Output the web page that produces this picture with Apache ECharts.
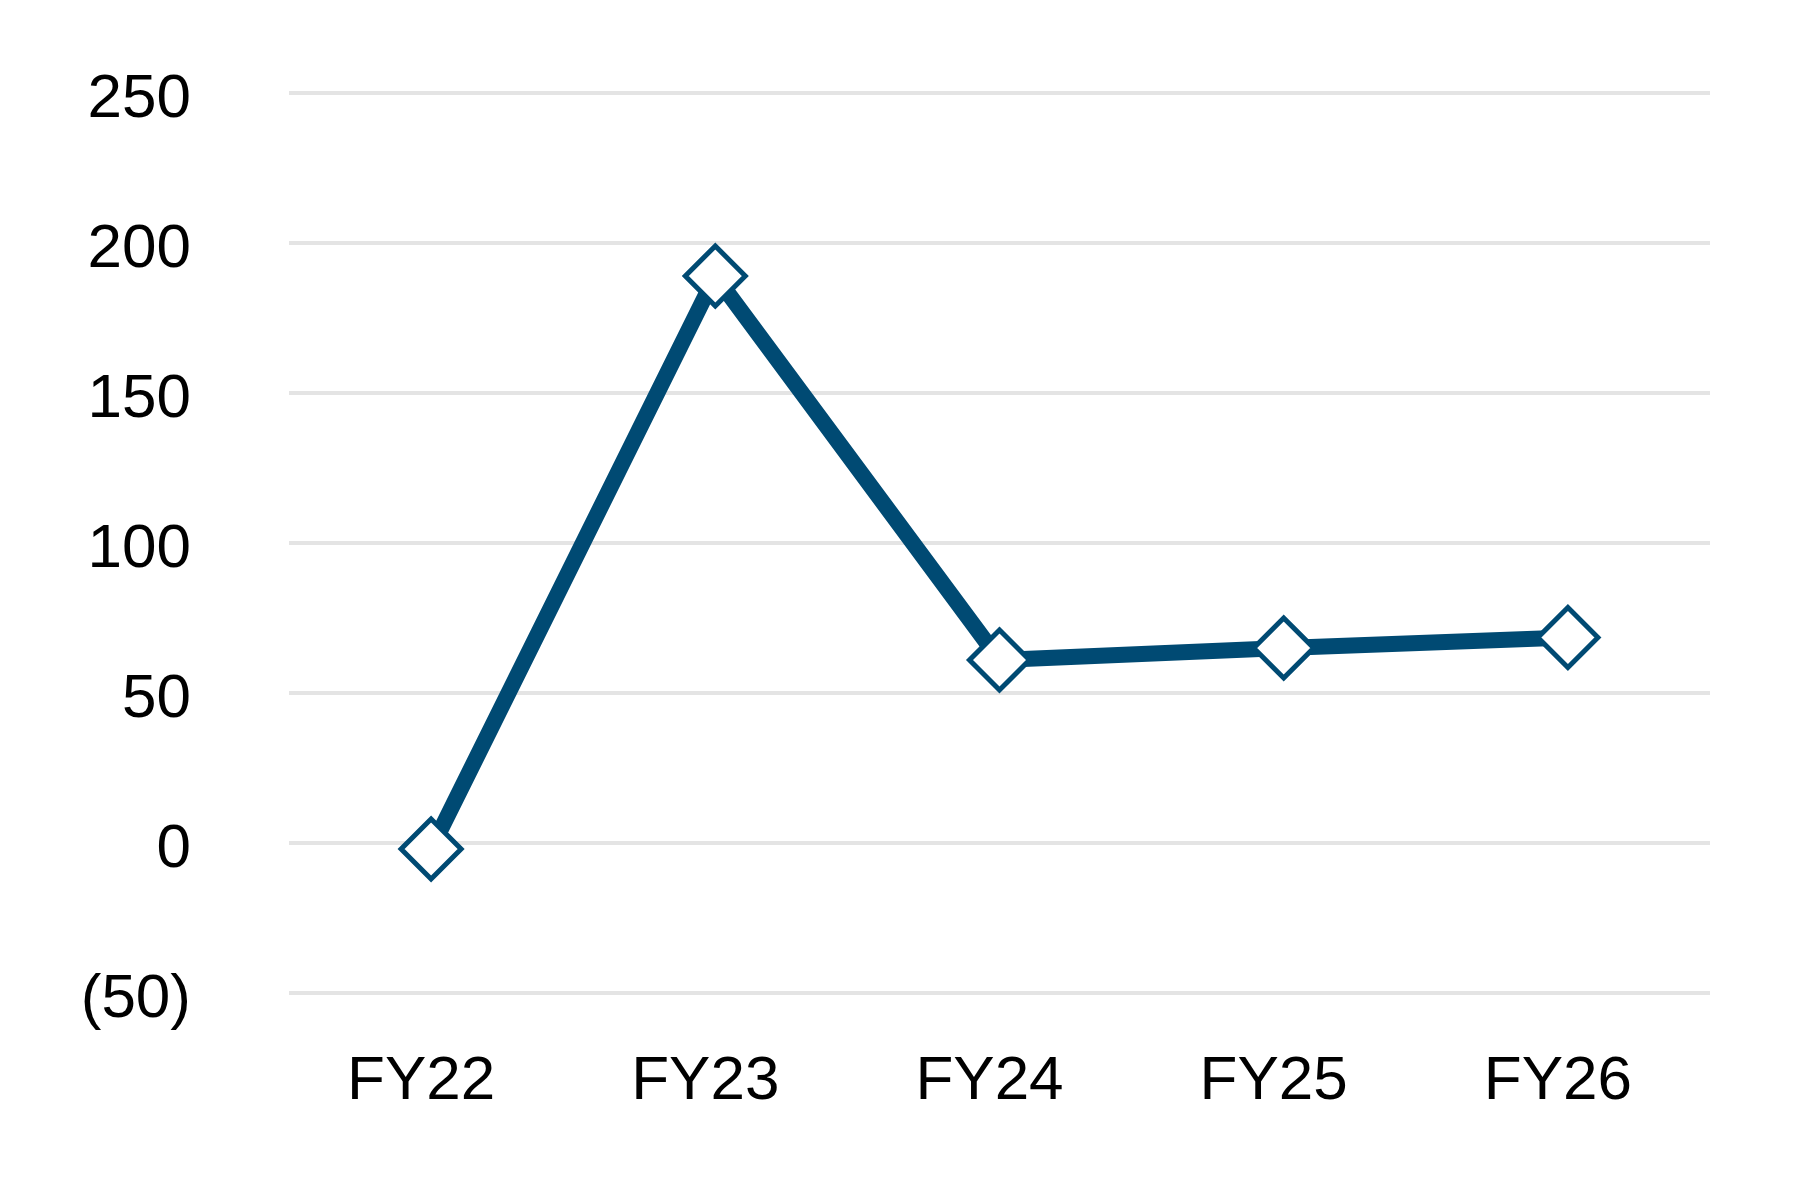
<!DOCTYPE html>
<html>
<head>
<meta charset="utf-8">
<script src="https://cdn.jsdelivr.net/npm/echarts@6/dist/echarts.min.js"></script>
<style>
	html, body { margin: 0; padding: 0; background: #fff; }
	#chart { width: 1800px; height: 1200px; }
</style>
</head>
<body>
<div id="chart"></div>
<script>
'use strict';
var categories = ['FY22', 'FY23', 'FY24', 'FY25', 'FY26'];
var values = [-2, 189, 61, 65, 68.5];
var yTicks = [-50, 0, 50, 100, 150, 200, 250];

var lineColor = '#004a73';
var myChart = echarts.init(document.getElementById('chart'));
var option = {
	animation: false,
	grid: {
		left: 289,
		right: 90,
		top: 93,
		bottom: 207
	},
	xAxis: {
		type: 'category',
		boundaryGap: true,
		data: categories,
		axisLine: { show: false },
		axisTick: { show: false },
		axisLabel: {
			margin: 58,
			padding: [0, 20, 0, 0],
			color: '#000',
			fontFamily: 'Liberation Sans',
			fontSize: 62
		}
	},
	yAxis: {
		type: 'value',
		min: yTicks[0],
		max: yTicks[yTicks.length - 1],
		interval: 50,
		axisLine: { show: false },
		axisTick: { show: false },
		splitLine: {
			lineStyle: { color: '#e4e4e4', width: 4 }
		},
		axisLabel: {
			margin: 98,
			verticalAlign: 'top',
			lineHeight: 14,
			color: '#000',
			fontFamily: 'Liberation Sans',
			fontSize: 62,
			formatter: function (v) {
				return v < 0 ? '(' + Math.abs(v) + ')' : String(v);
			}
		}
	},
	series: [{
		type: 'line',
		data: values,
		symbol: 'diamond',
		symbolSize: 60,
		lineStyle: { color: lineColor, width: 16 },
		itemStyle: {
			color: '#fff',
			borderColor: lineColor,
			borderWidth: 5
		}
	}]
};
myChart.setOption(option);
</script>
</body>
</html>
